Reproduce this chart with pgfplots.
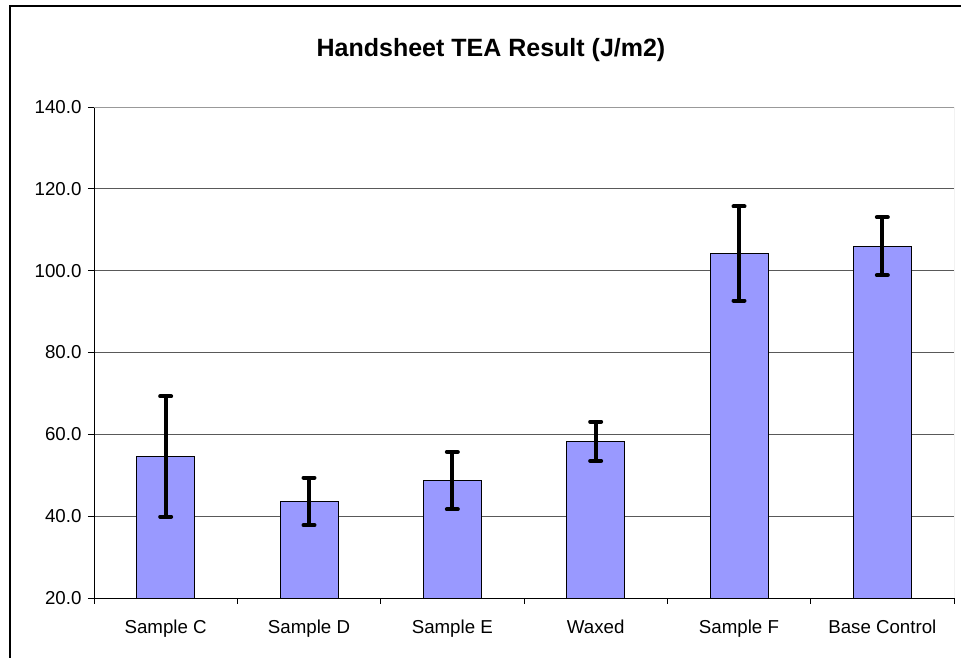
\documentclass[border=0pt]{standalone}
\usepackage{pgfplots}
\pgfplotsset{compat=1.18}
\usepackage{fontspec}
\setmainfont{Liberation Sans}
\definecolor{barfill}{HTML}{9999FF}
\begin{document}
\begin{tikzpicture}[x=1pt,y=1pt]
\useasboundingbox (0,0) rectangle (961,658);
\draw[line width=2.2pt] (10,-20) -- (10,652) -- (990,652);
\node[font=\fontsize{25}{30}\selectfont\bfseries] at (491,608) {Handsheet TEA Result (J/m2)};
\begin{axis}[
  at={(94pt,60pt)}, anchor=south west,
  scale only axis, width=860pt, height=491pt,
  xmin=-0.5, xmax=5.5, ymin=20, ymax=140,
  axis lines*=left,
  axis line style={black, line width=0.9pt},
  xtick={-0.5,0.5,...,5.5},
  x tick label as interval,
  xticklabels={Sample C,Sample D,Sample E,Waxed,Sample F,Base Control},
  ytick={20,40,...,140},
  tick align=outside,
  major tick length=6pt,
  tick style={black, line width=0.9pt},
  ymajorgrids,
  grid style={black!65, line width=0.9pt},
  ticklabel style={font=\fontsize{18.7}{22}\selectfont},
  /pgf/number format/assume math mode=true,
  yticklabel style={/pgf/number format/fixed, /pgf/number format/fixed zerofill, /pgf/number format/precision=1, xshift=-3pt},
  xticklabel style={yshift=-12pt},
]
\addplot[ybar, bar width=58pt, fill=barfill, draw=black, line width=0.9pt,
  error bars/.cd, y dir=both, y explicit,
  error bar style={line width=4pt, black},
  error mark options={rotate=90, mark size=5.5pt, line width=4pt, line cap=round, black}]
  coordinates {
  (0,54.6) +- (0,14.7)
  (1,43.6) +- (0,5.8)
  (2,48.7) +- (0,7.0)
  (3,58.3) +- (0,4.8)
  (4,104.2) +- (0,11.5)
  (5,106.0) +- (0,7.1)
  };
\draw[black!40, line width=0.9pt] (axis cs:5.5,20) -- (axis cs:5.5,140) -- (axis cs:-0.5,140);
\end{axis}
\end{tikzpicture}
\end{document}
